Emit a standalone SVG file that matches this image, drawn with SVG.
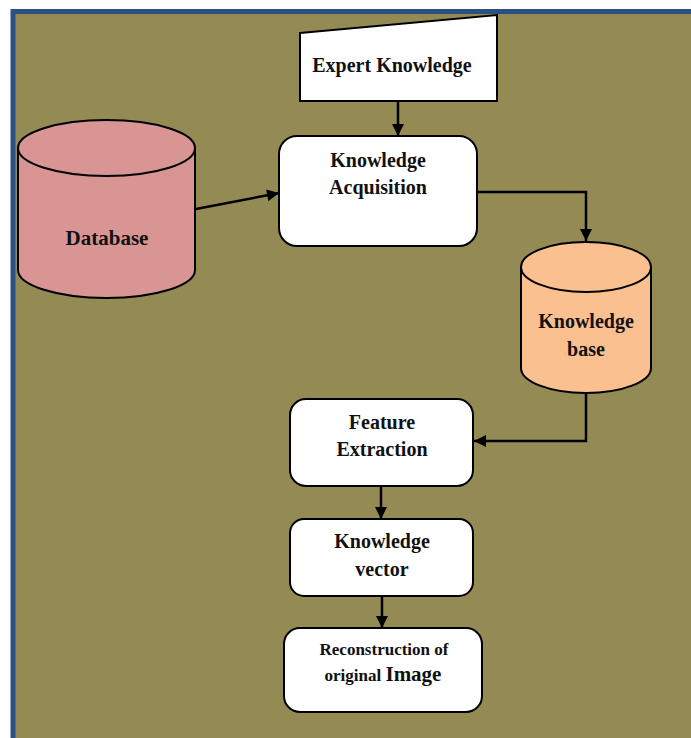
<svg xmlns="http://www.w3.org/2000/svg" width="691" height="738" viewBox="0 0 691 738">
<defs>
<marker id="ah" viewBox="0 0 10 10" refX="10" refY="5" markerWidth="13" markerHeight="12" markerUnits="userSpaceOnUse" orient="auto">
<path d="M0,0 L10,5 L0,10 z" fill="#000"/>
</marker>
<style>
.box{fill:#fff;stroke:#000;stroke-width:2}
.t{font-family:"Liberation Serif","Times New Roman",serif;font-weight:bold;font-size:20px;fill:#111;text-anchor:middle}
.c{fill:none;stroke:#000;stroke-width:2.5;marker-end:url(#ah)}
</style>
</defs>
<rect x="0" y="0" width="691" height="738" fill="#fff"/>
<rect x="13" y="12" width="678" height="726" fill="#948A54"/>
<path d="M13,738 V11.5 H691" fill="none" stroke="#2A5084" stroke-width="5"/>

<g id="connectors">
<line class="c" x1="398" y1="101" x2="398" y2="136"/>
<line class="c" x1="196" y1="209" x2="279" y2="193"/>
<polyline class="c" points="477,192 586,192 586,241"/>
<polyline class="c" points="586,393 586,441 474,441"/>
<line class="c" x1="381" y1="486" x2="381" y2="519"/>
<line class="c" x1="382" y1="596" x2="382" y2="628"/>
</g>

<g id="expert">
<path class="box" d="M300,33 L497,15 L497,101 L300,101 Z"/>
<text class="t" x="392" y="72">Expert Knowledge</text>
</g>

<g id="acquisition">
<rect class="box" x="279" y="136" width="198" height="110" rx="18"/>
<text class="t" x="378" y="167">Knowledge</text>
<text class="t" x="378" y="194">Acquisition</text>
</g>

<g id="database">
<path d="M18,148 V270 A88.5,28 0 0 0 195,270 V148" fill="#D99594" stroke="#000" stroke-width="2"/>
<ellipse cx="106.5" cy="148" rx="88.5" ry="28" fill="#D99594" stroke="#000" stroke-width="2"/>
<text class="t" x="107" y="245" style="font-size:21px">Database</text>
</g>

<g id="kbase">
<path d="M521,267 V368 A65,25 0 0 0 651,368 V267" fill="#FAC090" stroke="#000" stroke-width="2"/>
<ellipse cx="586" cy="267" rx="65" ry="25" fill="#FAC090" stroke="#000" stroke-width="2"/>
<text class="t" x="586" y="328">Knowledge</text>
<text class="t" x="586" y="356">base</text>
</g>

<g id="feature">
<rect class="box" x="290" y="399" width="183" height="87" rx="16"/>
<text class="t" x="382" y="429">Feature</text>
<text class="t" x="382" y="456">Extraction</text>
</g>

<g id="kvector">
<rect class="box" x="290" y="519" width="183" height="77" rx="14"/>
<text class="t" x="382" y="548">Knowledge</text>
<text class="t" x="382" y="576">vector</text>
</g>

<g id="reconstruction">
<rect class="box" x="284" y="628" width="198" height="84" rx="16"/>
<text class="t" x="384" y="655" style="font-size:17px">Reconstruction of</text>
<text class="t" x="383" y="681" style="font-size:17px">original <tspan style="font-size:21px">Image</tspan></text>
</g>
</svg>
